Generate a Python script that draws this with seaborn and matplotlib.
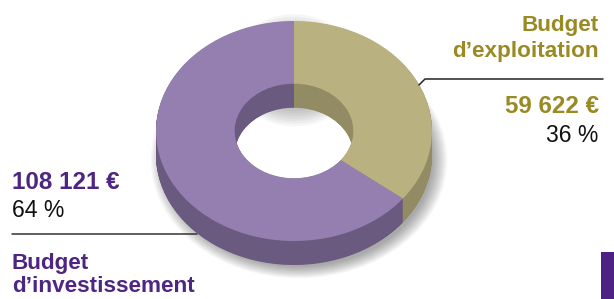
import matplotlib
matplotlib.use("Agg")
import matplotlib.pyplot as plt
from matplotlib.patches import Ellipse, Rectangle
import seaborn as sns

# ---- data ----
categories = ["Budget d\u2019exploitation", "Budget d\u2019investissement"]
amounts = [59622, 108121]
amount_labels = ["59 622 \u20ac", "108 121 \u20ac"]
pct_labels = ["36 %", "64 %"]
top_colors = ["#bab180", "#957fb0"]
side_colors = ["#928b64", "#6b5a80"]

sns.set_theme(style="white")
plt.rcParams["font.family"] = ["Liberation Sans", "DejaVu Sans"]

W, H = 614, 299
K = 110 / 138.0          # vertical squash of the ellipse
fig = plt.figure(figsize=(W / 100, H / 100), dpi=100)
ax = fig.add_axes([0, 0, 1, 1])


def dy(ypx):
    return (H - ypx) / K


cx, cy_px = 294, 131
R = 138
depth_px = 24
hole = 0.43

# soft shadow under the ring
for i in range(12):
    r = R - 4 + i * 1.3
    e = Ellipse((cx + 5, dy(cy_px + depth_px + 5)), 2 * r, 2 * r,
                facecolor="black", alpha=0.032, edgecolor="none", zorder=0.5)
    ax.add_patch(e)
# keep the hole white, with a soft shade under the back wall
ax.add_patch(Ellipse((cx, dy(cy_px)), 2 * R * hole, 2 * R * hole,
                     facecolor="white", edgecolor="none", zorder=0.8))
for i in range(8):
    u = 52 + i * 2.5
    ax.add_patch(Ellipse((cx, dy(cy_px - u)), 2 * R * hole, 2 * R * hole,
                         facecolor="black", alpha=0.035, edgecolor="none", zorder=0.9))

# extruded sides (stack of layers)
steps = 48
for s in range(steps, 0, -1):
    off = depth_px * s / steps / K
    ax.pie(amounts, colors=side_colors, startangle=90, counterclock=False,
           radius=R, center=(cx, dy(cy_px) - off),
           wedgeprops=dict(width=R * (1 - hole), linewidth=0, edgecolor="none"),
           frame=True)

# top face
ax.pie(amounts, colors=top_colors, startangle=90, counterclock=False,
       radius=R, center=(cx, dy(cy_px)),
       wedgeprops=dict(width=R * (1 - hole), linewidth=0, edgecolor="none"),
       frame=True)

ax.set_aspect("auto")
ax.set_xlim(0, W)
ax.set_ylim(0, H / K)
ax.axis("off")

olive = "#998a24"
purple = "#4f2583"


def ftext(x, y, s, **kw):
    fig.text(x / W, 1 - y / H, s, va="baseline", **kw)


fs_lab = 16.2
fs_amt = 17.4
fs_pct = 16.6
# right labels
ftext(599, 31, "Budget", ha="right", color=olive, fontsize=fs_lab, fontweight="bold")
ftext(599, 57, "d\u2019exploitation", ha="right", color=olive, fontsize=fs_lab, fontweight="bold")
ftext(599, 113, amount_labels[0], ha="right", color=olive, fontsize=fs_amt, fontweight="bold")
ftext(598, 142, pct_labels[0], ha="right", color="#111111", fontsize=fs_pct)

# left labels
ftext(12, 189, amount_labels[1], ha="left", color=purple, fontsize=fs_amt, fontweight="bold")
ftext(12, 217, pct_labels[1], ha="left", color="#111111", fontsize=fs_pct)
ftext(12, 269, "Budget", ha="left", color=purple, fontsize=fs_lab, fontweight="bold")
ftext(12, 292, "d\u2019investissement", ha="left", color=purple, fontsize=fs_lab, fontweight="bold")

# leader lines
ax.plot([419, 425, 603], [dy(85), dy(79), dy(79)], color="#222222", lw=1.1, zorder=5)
ax.plot([12, 197], [dy(234), dy(234)], color="#333333", lw=1.1, zorder=0.6)

# corner bar
ax.add_patch(Rectangle((601, dy(299)), 20, dy(252) - dy(299), facecolor="#4e2184",
                       edgecolor="none", zorder=6))

fig.savefig("out.png", dpi=100)
